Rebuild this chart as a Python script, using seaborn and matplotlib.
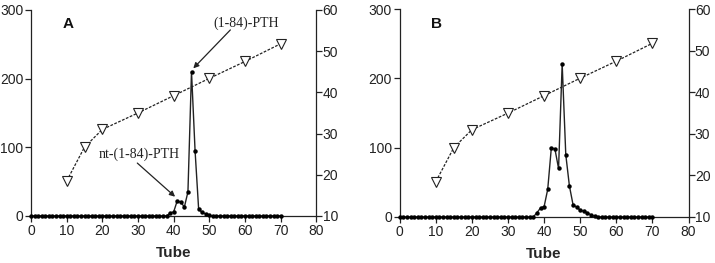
import numpy as np
import pandas as pd
import matplotlib
matplotlib.use("Agg")
import matplotlib.pyplot as plt
import seaborn as sns

# data
tubes = list(range(0, 71))

# panel A: PTH immunoreactivity per tube (left axis)
pth_a_peak = {39: 4, 40: 6, 41: 22, 42: 20, 43: 13, 44: 35, 45: 210,
              46: 95, 47: 10, 48: 5, 49: 3, 50: 1}
# panel B
pth_b_peak = {38: 6, 39: 13, 40: 15, 41: 40, 42: 100, 43: 98, 44: 70,
              45: 221, 46: 90, 47: 45, 48: 18, 49: 14, 50: 10, 51: 8,
              52: 6, 53: 3, 54: 1}

# acetonitrile gradient (right axis), same in both panels
grad_tubes = [10, 15, 20, 30, 40, 50, 60, 70]
grad_vals = [18.5, 26.7, 31, 35, 39.2, 43.4, 47.5, 51.8]

pth_a = [pth_a_peak.get(t, 0) for t in tubes]
pth_b = [pth_b_peak.get(t, 0) for t in tubes]

sns.set_style("ticks")
plt.rcParams["font.family"] = ["Liberation Sans", "DejaVu Sans"]

fig = plt.figure(figsize=(7.15, 2.63), dpi=100)
ax_a = fig.add_axes([0.0434, 0.179, 0.399, 0.783])
ax_b = fig.add_axes([0.559, 0.175, 0.404, 0.79])

line_col = "#222222"
serif = ["Liberation Serif", "DejaVu Serif"]


def draw_panel(ax, vals, letter):
    df = pd.DataFrame({"tube": tubes, "pth": vals})
    sns.lineplot(data=df, x="tube", y="pth", ax=ax, color=line_col, lw=1.0,
                 marker="o", markersize=3.2, markeredgewidth=0,
                 markerfacecolor="black", clip_on=False, zorder=3)
    ax.set_xlim(0, 80)
    ax.set_ylim(0, 300)
    ax.set_xticks(range(0, 81, 10))
    ax.set_yticks([0, 100, 200, 300])
    ax.set_xlabel("Tube", fontsize=11, fontweight="bold", labelpad=6)
    ax.set_ylabel("")
    ax.tick_params(labelsize=10, length=4, width=0.9, color=line_col,
                   labelcolor="#222222", pad=1.5)
    for s in ["left", "bottom"]:
        ax.spines[s].set_linewidth(0.9)
        ax.spines[s].set_color(line_col)
    ax.spines["top"].set_visible(False)
    ax.spines["right"].set_visible(False)
    ax.text(0.11, 0.93, letter, transform=ax.transAxes, fontsize=11,
            fontweight="bold", va="center", ha="left", color="#111111")

    axr = ax.twinx()
    gdf = pd.DataFrame({"tube": grad_tubes, "grad": grad_vals})
    sns.lineplot(data=gdf, x="tube", y="grad", ax=axr, color=line_col,
                 lw=0.9, linestyle=(0, (2.2, 1.2)), marker="v",
                 markersize=6.5, markerfacecolor="white",
                 markeredgecolor=line_col, markeredgewidth=0.8, zorder=2)
    axr.set_ylim(10, 60)
    axr.set_yticks(range(10, 61, 10))
    axr.set_ylabel("")
    axr.tick_params(labelsize=10, length=4, width=0.9, color=line_col,
                    labelcolor="#222222", pad=0.5)
    for s in ["top", "left", "bottom"]:
        axr.spines[s].set_visible(False)
    axr.spines["right"].set_linewidth(0.9)
    axr.spines["right"].set_color(line_col)
    return axr


draw_panel(ax_a, pth_a, "A")
draw_panel(ax_b, pth_b, "B")

# labels and arrows to the peaks in panel A
arrow_kw = dict(arrowstyle="-|>", color="#222222", lw=0.9,
                shrinkA=0, shrinkB=0, mutation_scale=8)
ax_a.text(60.4, 281, "(1-84)-PTH", fontsize=10, family=serif,
          ha="center", va="center", color="#222222")
ax_a.annotate("", xy=(45.5, 215), xytext=(55.9, 271), arrowprops=arrow_kw)
ax_a.text(30.3, 90, "nt-(1-84)-PTH", fontsize=10, family=serif,
          ha="center", va="center", color="#222222")
ax_a.annotate("", xy=(40.4, 28), xytext=(29.8, 77), arrowprops=arrow_kw)

fig.savefig("out.png", dpi=100)
